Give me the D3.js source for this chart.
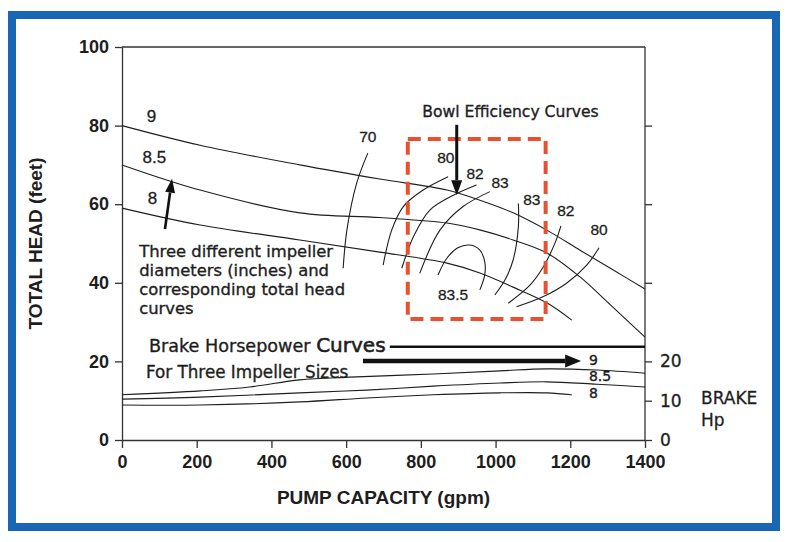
<!DOCTYPE html>
<html>
<head>
<meta charset="utf-8">
<script src="https://cdn.jsdelivr.net/npm/d3@7/dist/d3.min.js"></script>
<style>
  html, body { margin: 0; padding: 0; background: #fff; }
  svg { display: block; }
</style>
</head>
<body>
<svg id="chart" width="788" height="542"></svg>
<script>
// ---------------- DATA ----------------
const xTicks = [0, 200, 400, 600, 800, 1000, 1200, 1400];
const yTicks = [0, 20, 40, 60, 80, 100];
const brakeTicks = [0, 10, 20];
const rightHeadTicks = [40, 60, 80];

// Total head curves (gpm, feet) for impeller diameters
const impellerSizes = ["9", "8.5", "8"];
const head9  = [[0,80],[209,75],[476,70],[690,66.4],[870,63.6],[958,61],[1047,57.8],[1137,53.4],[1226,48.3],[1314,43.3],[1400,38.4]];
const head85 = [[0,70],[209,63.6],[476,57.8],[690,56.6],[870,55.2],[960,53.4],[1047,50.9],[1137,47.6],[1226,41.5],[1314,33.8],[1400,26.2]];
const head8  = [[0,59],[209,54.7],[476,50.9],[690,47.8],[870,45],[958,42.5],[1047,38.9],[1137,34.9],[1204,30.5]];
const headLabelPos = [[66,80.8],[55,70.4],[69,60]];

// Brake horsepower curves (gpm, hp)
const bhp9  = [[0,11.5],[209,12.5],[342,13.5],[476,15.3],[610,16],[833,16.8],[1012,17.6],[1137,18.1],[1271,17.8],[1400,17]];
const bhp85 = [[0,10.4],[209,10.9],[476,12],[655,12.7],[833,13.7],[1012,14.5],[1137,14.8],[1271,14.2],[1400,13.5]];
const bhp8  = [[0,8.9],[209,8.9],[476,9.7],[655,10.7],[833,11.5],[1012,12],[1137,12],[1204,11.5]];
const bhpLabelPos = [[1250,19.2],[1250,15.0],[1250,10.8]];

// Bowl efficiency curves (gpm, feet)
const effNames = ["70","80","82","83","83.5","83","82","80"];
const eff70  = [[658,73],[628,65.3],[602,53.4],[592,43.7]];
const eff80L = [[873,67],[806,63.6],[753,59.4],[722,53.4],[699,44.5]];
const eff82L = [[949,64.9],[887,62.3],[824,58.5],[780,51.7],[749,43.7]];
const eff83L = [[985,63.2],[913,59.4],[851,53.4],[797,42.4]];
const eff835 = [[846,42],[870,46.3],[899,48.9],[931,49.6],[958,48.3],[971,45.3],[971,42],[958,38.2]];
const eff83R = [[1061,60.2],[1061,54.3],[1047,45.8],[1025,40.7],[998,36.9]];
const eff82R = [[1175,54.5],[1159,50.1],[1128,44.1],[1092,39.4],[1034,34.8]];
const eff80R = [[1277,48.9],[1244,44.5],[1190,39.9],[1128,36.5],[1056,33.9]];
const effLabelPos = [[658,75.9],[867,70.4],[945,66.5],[1012,64.1],[886,35.5],[1097,59.8],[1188,57.1],[1277,52.2]];

// ---------------- LAYOUT ----------------
const svg = d3.select("#chart");
const margin = { left: 122, top: 47, right: 143, bottom: 102 };
const W = 788, H = 542;
const w = W - margin.left - margin.right;
const h = H - margin.top - margin.bottom;
const ink = "#1e1e1e";
const numFont = "'Liberation Sans', Arial, sans-serif";
const gothic = "'DejaVu Sans', sans-serif";

// blue frame
svg.append("rect").attr("x", 12).attr("y", 15).attr("width", 764).attr("height", 512)
  .attr("fill", "#fff").attr("stroke", "#1866b4").attr("stroke-width", 8);

const g = svg.append("g").attr("transform", `translate(${margin.left},${margin.top})`);

const x = d3.scaleLinear().domain([0, 1400]).range([0, w]);
const y = d3.scaleLinear().domain([0, 100]).range([h, 0]);
const yB = d3.scaleLinear().domain([0, 20]).range([y(0), y(20)]);

// axes
const axL = g.append("g").call(d3.axisLeft(y).tickValues(yTicks).tickSize(7).tickSizeOuter(0).tickPadding(6));
const axB = g.append("g").attr("transform", `translate(0,${h})`)
  .call(d3.axisBottom(x).tickValues(xTicks).tickFormat(d3.format("d")).tickSize(8).tickSizeOuter(0).tickPadding(7));
const axR1 = g.append("g").attr("transform", `translate(${w},0)`)
  .call(d3.axisRight(y).tickValues(rightHeadTicks).tickSize(7).tickSizeOuter(0).tickFormat(""));
const axR2 = g.append("g").attr("transform", `translate(${w},0)`)
  .call(d3.axisRight(yB).tickValues(brakeTicks).tickSize(7).tickSizeOuter(0).tickPadding(8));
[axL, axB].forEach(a => {
  a.selectAll("text").attr("font-family", numFont).attr("font-weight", "bold")
    .attr("font-size", 18).attr("fill", ink);
});
axR2.selectAll("text").attr("font-family", gothic).attr("font-size", 17).attr("fill", ink)
  .attr("stroke", ink).attr("stroke-width", 0.3);
[axL, axB, axR1, axR2].forEach(a => {
  a.selectAll("path,line").attr("stroke", "#333").attr("stroke-width", 1.3);
});
axR1.select(".domain").remove();
axR2.select(".domain").remove();
// frame top & right lines
g.append("line").attr("x1", 0).attr("x2", w).attr("y1", y(100)).attr("y2", y(100))
  .attr("stroke", "#333").attr("stroke-width", 1.3);
g.append("line").attr("x1", w).attr("x2", w).attr("y1", y(100)).attr("y2", y(0))
  .attr("stroke", "#333").attr("stroke-width", 1.3);

// axis titles
svg.append("text").attr("transform", `translate(42,${margin.top + h / 2}) rotate(-90)`)
  .attr("text-anchor", "middle").attr("font-family", numFont).attr("font-weight", "bold")
  .attr("font-size", 19).attr("fill", ink).text("TOTAL HEAD (feet)");
svg.append("text").attr("x", margin.left + w / 2).attr("y", 504)
  .attr("text-anchor", "middle").attr("font-family", numFont).attr("font-weight", "bold")
  .attr("font-size", 19).attr("fill", ink).text("PUMP CAPACITY (gpm)");
svg.append("text").attr("x", 701).attr("y", 404).attr("font-family", gothic)
  .attr("font-size", 17).attr("fill", ink).attr("stroke", ink).attr("stroke-width", 0.3).text("BRAKE");
svg.append("text").attr("x", 701).attr("y", 426).attr("font-family", gothic)
  .attr("font-size", 17).attr("fill", ink).attr("stroke", ink).attr("stroke-width", 0.3).text("Hp");

// line generators
const lineH = d3.line().x(d => x(d[0])).y(d => y(d[1])).curve(d3.curveCatmullRom.alpha(0.5));
const lineB = d3.line().x(d => x(d[0])).y(d => yB(d[1])).curve(d3.curveCatmullRom.alpha(0.5));

const curveStyle = sel => sel.attr("fill", "none").attr("stroke", ink).attr("stroke-width", 1.1);

[head9, head85, head8].forEach(d => g.append("path").datum(d).attr("d", lineH).call(curveStyle));
[bhp9, bhp85, bhp8].forEach(d => g.append("path").datum(d).attr("d", lineB).call(curveStyle));
[eff70, eff80L, eff82L, eff83L, eff835, eff83R, eff82R, eff80R]
  .forEach(d => g.append("path").datum(d).attr("d", lineH).call(curveStyle));

// labels
impellerSizes.forEach((t, i) => {
  g.append("text").attr("x", x(headLabelPos[i][0])).attr("y", y(headLabelPos[i][1]))
    .attr("font-family", numFont).attr("font-size", 17).attr("fill", ink)
    .attr("stroke", ink).attr("stroke-width", 0.3).text(t);
});
impellerSizes.forEach((t, i) => {
  g.append("text").attr("x", x(bhpLabelPos[i][0])).attr("y", yB(bhpLabelPos[i][1]))
    .attr("font-family", gothic).attr("font-size", 14).attr("fill", ink)
    .attr("stroke", ink).attr("stroke-width", 0.4).text(t);
});
effNames.forEach((t, i) => {
  g.append("text").attr("x", x(effLabelPos[i][0])).attr("y", y(effLabelPos[i][1]))
    .attr("text-anchor", "middle")
    .attr("font-family", numFont).attr("font-size", 15.5).attr("fill", ink)
    .attr("stroke", ink).attr("stroke-width", 0.3).text(t);
});

// arrow helper
function arrow(x1, y1, x2, y2, sw, hl, hw) {
  const ang = Math.atan2(y2 - y1, x2 - x1);
  const bx = x2 - hl * Math.cos(ang), by = y2 - hl * Math.sin(ang);
  g.append("line").attr("x1", x1).attr("y1", y1).attr("x2", bx).attr("y2", by)
    .attr("stroke", "#111").attr("stroke-width", sw);
  const px = -Math.sin(ang) * hw / 2, py = Math.cos(ang) * hw / 2;
  g.append("path").attr("d", `M${x2},${y2}L${bx + px},${by + py}L${bx - px},${by - py}Z`).attr("fill", "#111");
}

const gothicText = (sel, size) => sel.attr("font-family", gothic).attr("font-size", size)
  .attr("fill", ink).attr("stroke", ink).attr("stroke-width", 0.35);

// impeller annotation
arrow(x(115), y(53.7), x(134), y(66.5), 2.6, 14, 10);
const note = ["Three different impeller", "diameters (inches) and", "corresponding total head", "curves"];
note.forEach((t, i) => {
  g.append("text").attr("x", x(46)).attr("y", y(46.5) + i * 18.8).call(gothicText, 16.4).text(t);
});

// bowl efficiency annotation
g.append("rect").attr("x", x(765)).attr("y", y(76.6)).attr("width", x(1134) - x(765))
  .attr("height", y(30.8) - y(76.6)).attr("fill", "none").attr("stroke", "#e9502f")
  .attr("stroke-width", 4).attr("stroke-dasharray", "13,7");
g.append("text").attr("x", x(1040)).attr("y", y(82.2)).attr("text-anchor", "middle")
  .call(gothicText, 15.6).text("Bowl Efficiency Curves");
arrow(x(896), y(80.2), x(896), y(62.3), 3, 15, 11);

// brake horsepower annotation
const bhpTitle = g.append("text").attr("x", x(72)).attr("y", y(22.4)).call(gothicText, 17.6);
bhpTitle.append("tspan").text("Brake Horsepower ");
bhpTitle.append("tspan").attr("font-size", 20).attr("stroke-width", 0.6).text("Curves");
g.append("line").attr("x1", x(717)).attr("x2", x(1400)).attr("y1", y(23.7)).attr("y2", y(23.7))
  .attr("stroke", "#111").attr("stroke-width", 2.5);
arrow(x(645), y(20.1), x(1229), y(20.1), 4.5, 16, 13);
g.append("text").attr("x", x(64)).attr("y", y(15.8)).call(gothicText, 16.8).text("For Three Impeller Sizes");
</script>
</body>
</html>
